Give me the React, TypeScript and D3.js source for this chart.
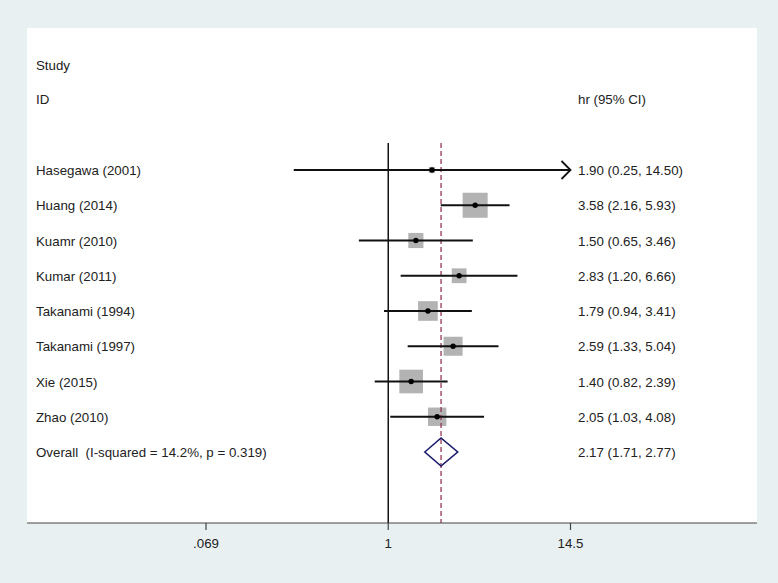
import React, { useEffect } from "react";
import * as d3 from "d3";

const studies = [
  "Hasegawa (2001)",
  "Huang (2014)",
  "Kuamr (2010)",
  "Kumar (2011)",
  "Takanami (1994)",
  "Takanami (1997)",
  "Xie (2015)",
  "Zhao (2010)",
];
const hr = [1.9, 3.58, 1.5, 2.83, 1.79, 2.59, 1.4, 2.05];
const lower = [0.25, 2.16, 0.65, 1.2, 0.94, 1.33, 0.82, 1.03];
const upper = [14.5, 5.93, 3.46, 6.66, 3.41, 5.04, 2.39, 4.08];
const weights = [1.4, 22.7, 8.3, 7.9, 14.0, 13.1, 20.3, 12.3];
const overallLabel = "Overall\u00a0\u00a0(I-squared = 14.2%, p = 0.319)";
const overall = { hr: 2.17, lower: 1.71, upper: 2.77 };
const tickValues = [0.069, 1, 14.5];
const tickLabels = [".069", "1", "14.5"];

const W = 778;
const H = 583;
const FONT = "'Liberation Sans', Arial, sans-serif";

export default function App() {
  useEffect(() => {
    document.body.style.margin = "0";
  }, []);

  const x = d3.scaleLog().domain([0.069, 14.5]).range([206, 570.5]);
  const rowY = d3
    .scalePoint<number>()
    .domain(d3.range(studies.length + 1))
    .range([170, 452]);
  const panel = { x0: 27, x1: 757, y0: 28, y1: 523 };
  const lineTop = 143;
  const side = (w: number) => 5.25 * Math.sqrt(w);
  const fmt = (v: number) => v.toFixed(2);
  const textColor = "#222";
  const fs = 13.3;
  const xMin = x.range()[0];
  const xMax = x.range()[1];

  const diamondY = rowY(studies.length)!;
  const diamond = [
    [x(overall.lower), diamondY],
    [x(overall.hr), diamondY - 14],
    [x(overall.upper), diamondY],
    [x(overall.hr), diamondY + 14],
  ];

  return (
    <svg width={W} height={H} style={{ display: "block" }} fontFamily={FONT}>
      <rect x={0} y={0} width={W} height={H} fill="#e8f0f2" />
      <rect
        x={panel.x0}
        y={panel.y0}
        width={panel.x1 - panel.x0}
        height={panel.y1 - panel.y0}
        fill="#ffffff"
      />

      {/* headers */}
      <text x={36} y={70} fontSize={fs} fill={textColor}>Study</text>
      <text x={36} y={104} fontSize={fs} fill={textColor}>ID</text>
      <text x={578} y={104} fontSize={fs} fill={textColor}>hr (95% CI)</text>

      {/* null line */}
      <line x1={x(1)} x2={x(1)} y1={lineTop} y2={panel.y1} stroke="#000" strokeWidth={1.4} />

      {/* boxes */}
      {studies.map((s, i) => {
        const cy = rowY(i)!;
        const sd = side(weights[i]);
        return (
          <rect
            key={"b" + i}
            x={x(hr[i]) - sd / 2}
            y={cy - sd / 2}
            width={sd}
            height={sd}
            fill="#b3b3b3"
          />
        );
      })}

      {/* overall dashed line */}
      <line
        x1={x(overall.hr)}
        x2={x(overall.hr)}
        y1={lineTop}
        y2={panel.y1}
        stroke="#8c2a4a"
        strokeWidth={1.2}
        strokeDasharray="5,3"
      />

      {/* CI lines */}
      {studies.map((s, i) => {
        const cy = rowY(i)!;
        const lo = Math.max(x(lower[i]), xMin);
        const hiRaw = x(upper[i]);
        const hi = Math.min(hiRaw, xMax);
        const arrow = upper[i] >= 14.5;
        return (
          <g key={"c" + i}>
            <line x1={lo} x2={hi} y1={cy} y2={cy} stroke="#111" strokeWidth={1.8} />
            {arrow && (
              <polyline
                points={`${hi - 9},${cy - 9} ${hi},${cy} ${hi - 9},${cy + 9}`}
                fill="none"
                stroke="#111"
                strokeWidth={1.8}
              />
            )}
            <circle cx={x(hr[i])} cy={cy} r={2.7} fill="#000" />
          </g>
        );
      })}

      {/* diamond */}
      <polygon
        points={diamond.map((p) => p.join(",")).join(" ")}
        fill="none"
        stroke="#1b1b6b"
        strokeWidth={1.6}
      />

      {/* labels */}
      {studies.map((s, i) => (
        <g key={"t" + i}>
          <text x={36} y={rowY(i)! + 5} fontSize={fs} fill={textColor}>{s}</text>
          <text x={578} y={rowY(i)! + 5} fontSize={fs} fill={textColor}>
            {`${fmt(hr[i])} (${fmt(lower[i])}, ${fmt(upper[i])})`}
          </text>
        </g>
      ))}
      <text x={36} y={diamondY + 5} fontSize={fs} fill={textColor}>{overallLabel}</text>
      <text x={578} y={diamondY + 5} fontSize={fs} fill={textColor}>
        {`${fmt(overall.hr)} (${fmt(overall.lower)}, ${fmt(overall.upper)})`}
      </text>

      {/* x axis */}
      <line x1={panel.x0} x2={panel.x1} y1={panel.y1} y2={panel.y1} stroke="#444" strokeWidth={1.2} />
      {tickValues.map((t, i) => (
        <g key={"k" + i}>
          <line x1={x(t)} x2={x(t)} y1={panel.y1} y2={panel.y1 + 7} stroke="#444" strokeWidth={1.2} />
          <text x={x(t)} y={panel.y1 + 25} fontSize={fs} fill={textColor} textAnchor="middle">
            {tickLabels[i]}
          </text>
        </g>
      ))}
    </svg>
  );
}
